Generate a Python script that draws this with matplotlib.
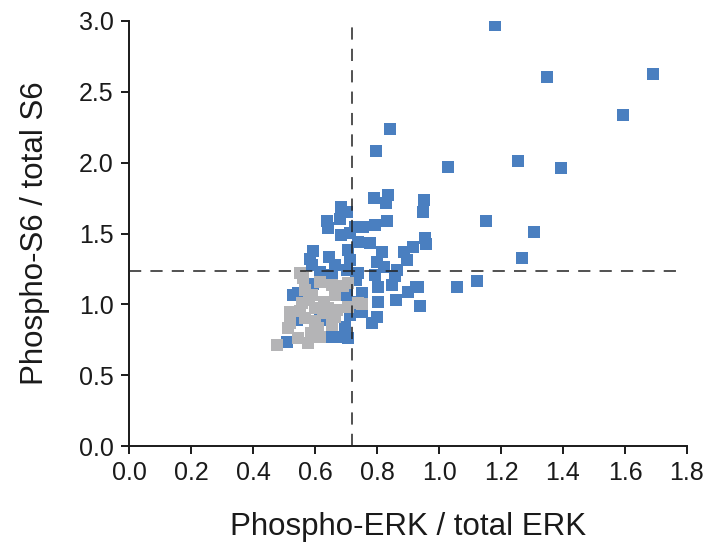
import matplotlib.pyplot as plt
import numpy as np

# Blue points (phospho-ERK / total ERK, phospho-S6 / total S6)
blue_x = [1.18, 1.35, 1.69, 1.594, 1.03, 1.255, 1.394, 0.952, 0.948, 1.152, 1.306, 0.955, 0.958,
          1.268, 1.123, 1.058, 0.932,
          0.842, 0.797, 0.79, 0.835, 0.829, 0.794, 0.832, 0.755, 0.739, 0.777, 0.916, 0.816,
          0.887, 0.897, 0.80, 0.823, 0.865, 0.794, 0.858, 0.739,
          0.684, 0.703, 0.681, 0.639, 0.642, 0.684, 0.713, 0.729, 0.594, 0.645, 0.665, 0.706,
          0.713, 0.590, 0.616, 0.703, 0.732,
          0.803, 0.848, 0.926, 0.90, 0.752, 0.861, 0.939, 0.803, 0.752, 0.80, 0.784,
          0.545, 0.655, 0.703, 0.713, 0.697, 0.671, 0.706, 0.51, 0.542, 0.616, 0.639, 0.735,
          0.529, 0.584, 0.594]
blue_y = [2.97, 2.604, 2.625, 2.336, 1.97, 2.01, 1.96, 1.74, 1.655, 1.588, 1.51, 1.468, 1.426,
          1.326, 1.164, 1.122, 1.122,
          2.237, 2.08, 1.75, 1.771, 1.715, 1.560, 1.588, 1.545, 1.44, 1.433, 1.404, 1.369,
          1.369, 1.312, 1.30, 1.263, 1.242, 1.206, 1.20, 1.221,
          1.687, 1.65, 1.60, 1.588, 1.54, 1.489, 1.503, 1.545, 1.376, 1.334, 1.277, 1.383,
          1.312, 1.277, 1.228, 1.242, 1.172,
          1.122, 1.136, 1.122, 1.087, 1.080, 1.030, 0.99, 1.016, 0.946, 0.910, 0.868,
          1.080, 1.207, 1.066, 0.924, 0.84, 0.769, 0.762, 0.734, 0.889, 0.889, 0.769, 1.016,
          1.066, 1.320, 1.143]

# Grey points
grey_x = [0.561, 0.616, 0.568, 0.655, 0.706, 0.590, 0.665, 0.558, 0.519, 0.600, 0.642,
          0.706, 0.739, 0.752, 0.568, 0.665, 0.513, 0.610, 0.655, 0.545, 0.577, 0.477,
          0.616, 0.552, 0.52, 0.587, 0.69, 0.626, 0.58, 0.63, 0.67, 0.60, 0.55]
grey_y = [1.186, 1.157, 1.10, 1.136, 1.150, 1.066, 1.066, 1.009, 0.946, 0.974, 0.974,
          0.981, 1.009, 1.002, 0.903, 0.910, 0.832, 0.832, 0.854, 0.762, 0.727, 0.713,
          0.769, 1.221, 0.87, 0.80, 1.13, 0.94, 1.03, 1.02, 0.96, 0.88, 0.95]

erk_cut = 0.72
s6_cut = 1.235

fig = plt.figure(figsize=(7.13, 5.48), dpi=100)
ax = fig.add_axes([0.181, 0.186, 0.7825, 0.7757])

ax.scatter(blue_x, blue_y, marker='s', s=75, color='#4a7fc0', linewidths=0, zorder=3)
ax.scatter(grey_x, grey_y, marker='s', s=75, color='#b4b4b6', linewidths=0, zorder=4)

# threshold lines
ax.plot([erk_cut, erk_cut], [0, 3.0], color='#222222', lw=1.1, ls=(0, (8, 6)), zorder=5)
ax.plot([0, 1.784], [s6_cut, s6_cut], color='#222222', lw=1.1, ls=(0, (8, 6)), zorder=5)

ax.set_xlim(0, 1.8)
ax.set_ylim(0, 3.0)
ax.set_xticks(np.arange(0, 1.81, 0.2))
ax.set_yticks(np.arange(0, 3.01, 0.5))
ax.set_xticklabels(['%.1f' % v for v in np.arange(0, 1.81, 0.2)])
ax.set_yticklabels(['%.1f' % v for v in np.arange(0, 3.01, 0.5)])

for side in ['top', 'right']:
    ax.spines[side].set_visible(False)
for side in ['left', 'bottom']:
    ax.spines[side].set_linewidth(1.4)
    ax.spines[side].set_color('#1a1a1a')

ax.tick_params(direction='out', length=6, width=1.4, colors='#1a1a1a', labelsize=18,
               pad=5)
for lab in ax.get_xticklabels() + ax.get_yticklabels():
    lab.set_fontfamily('Liberation Sans')

ax.set_xlabel('Phospho-ERK / total ERK', fontsize=22.5, family='Liberation Sans',
              color='#1a1a1a', labelpad=19)
ax.set_ylabel('Phospho-S6 / total S6', fontsize=22.5, family='Liberation Sans',
              color='#1a1a1a', labelpad=21)

fig.savefig('out.png', dpi=100)
